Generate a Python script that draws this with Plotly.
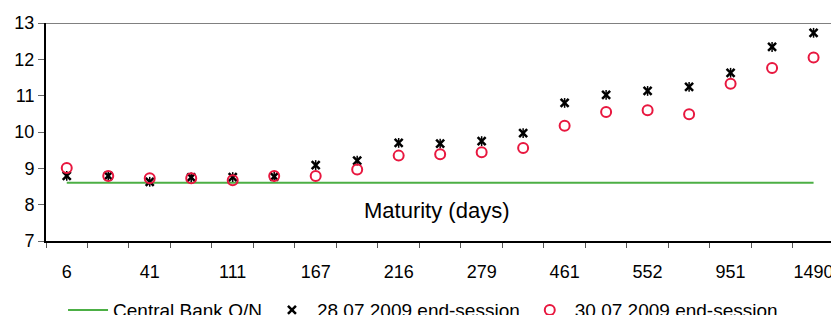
import plotly.graph_objects as go

# Data
tick_labels = ["6", "41", "111", "167", "216", "279", "461", "552", "951", "1490"]
central_bank_on = [8.6] * 19
session_28_07 = [8.79, 8.79, 8.63, 8.75, 8.76, 8.77, 9.09, 9.21, 9.70, 9.68,
                 9.75, 9.97, 10.80, 11.02, 11.13, 11.24, 11.63, 12.34, 12.73]
session_30_07 = [9.01, 8.79, 8.73, 8.73, 8.67, 8.79, 8.79, 8.97, 9.35, 9.39,
                 9.44, 9.56, 10.17, 10.55, 10.60, 10.49, 11.33, 11.76, 12.05]

idx = list(range(len(session_28_07)))
label_pos = idx[::2]
boundaries = [i - 0.5 for i in range(len(idx) + 1)]

FONT = "Arial, Liberation Sans, sans-serif"

fig = go.Figure()
fig.add_trace(go.Scatter(
    x=idx, y=central_bank_on, mode="lines", name="Central Bank O/N",
    line=dict(color="#4CAF45", width=2), cliponaxis=False))
fig.add_trace(go.Scatter(
    x=idx, y=session_28_07, mode="markers", name="28.07.2009 end-session",
    marker=dict(symbol="x-thin-open", size=8, color="black",
                line=dict(color="black", width=2.5)), legendgroup="a",
    cliponaxis=False))
fig.add_trace(go.Scatter(
    x=idx, y=session_28_07, mode="markers", showlegend=False,
    marker=dict(symbol="line-ns-open", size=7, color="black",
                line=dict(color="black", width=1.5)), legendgroup="a",
    hoverinfo="skip", cliponaxis=False))
fig.add_trace(go.Scatter(
    x=idx, y=session_30_07, mode="markers", name="30.07.2009 end-session",
    marker=dict(symbol="circle-open", size=10, color="#E8173F",
                line=dict(color="#E8173F", width=2)), cliponaxis=False))
# dummy trace so the label axis renders
fig.add_trace(go.Scatter(x=[0], y=[None], xaxis="x2", yaxis="y",
                         showlegend=False, hoverinfo="skip"))

fig.update_layout(
    width=831, height=315,
    margin=dict(l=46, r=0, t=23, b=74, autoexpand=False),
    paper_bgcolor="white", plot_bgcolor="white",
    font=dict(family=FONT, size=18, color="black"),
    showlegend=True,
    legend=dict(orientation="h", x=0.0217, xanchor="left", y=-0.23, yanchor="top",
                font=dict(size=19, family=FONT), bgcolor="rgba(0,0,0,0)",
                itemwidth=40, tracegroupgap=0),
    xaxis=dict(
        range=[-0.5, 18.42], showgrid=False, zeroline=False, automargin=False,
        tickmode="array", tickvals=boundaries, showticklabels=False,
        ticks="outside", ticklen=5, tickcolor="#555", tickwidth=1,
        showline=True, linecolor="black", linewidth=2),
    xaxis2=dict(
        overlaying="x", matches="x", anchor="y", side="bottom",
        range=[-0.5, 18.42], showgrid=False, zeroline=False, automargin=False,
        tickmode="array", tickvals=label_pos, ticktext=tick_labels,
        ticks="outside", ticklen=14, tickcolor="rgba(0,0,0,0)",
        ticklabeloverflow="allow",
        showline=False, tickfont=dict(size=18, family=FONT)),
    yaxis=dict(
        range=[7, 13], showgrid=False, zeroline=False, automargin=False,
        tickmode="array", tickvals=[7, 8, 9, 10, 11, 12, 13],
        ticks="outside", ticklen=6, tickcolor="#666", tickwidth=1,
        showline=True, linecolor="black", linewidth=2,
        tickfont=dict(size=18, family=FONT)),
    shapes=[dict(type="line", xref="paper", yref="y", x0=0, x1=1, y0=13, y1=13,
                 line=dict(color="#808080", width=2))],
    annotations=[dict(text="Maturity (days)", xref="x", yref="y", x=8.9, y=7.84,
                      showarrow=False, font=dict(size=22, family=FONT),
                      xanchor="center", yanchor="middle")],
)

fig.write_html(
    "out.html",
    config={"displayModeBar": False},
    post_script="document.body.style.margin='0';document.body.style.overflow='hidden';",
)
